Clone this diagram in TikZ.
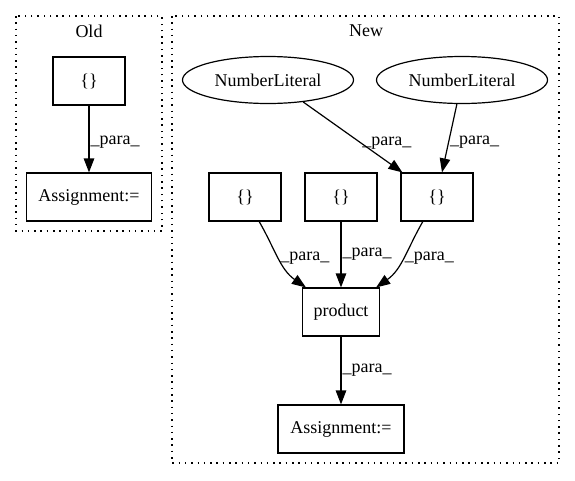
\documentclass[tikz,border=0pt]{standalone}
\usepackage{fontspec}
\setmainfont{Liberation Serif}
\usetikzlibrary{shapes.geometric,arrows.meta,calc}
\begin{document}
\begin{tikzpicture}[x=1pt,y=1pt,
  font=\fontsize{18}{21}\selectfont,
  box/.style={draw, line width=1.2pt, minimum width=72pt, minimum height=48pt, inner sep=0pt},
  ell/.style={draw, ellipse, line width=1.2pt, minimum width=171pt, minimum height=47pt, inner sep=0pt},
  cluster/.style={draw, line width=1.3pt, dash pattern=on 1.5pt off 4.8pt},
  edge/.style={draw, line width=1.2pt, -{Triangle[length=14pt,width=10.5pt]}},
  lab/.style={anchor=west, inner sep=1pt}]
\useasboundingbox (0,0) rectangle (575,-480);
% clusters
\draw[cluster] (16,-16) rectangle (162,-231);
\draw[cluster] (172,-16) rectangle (559,-463);
\node (oldlbl) at (89,-31) {Old};
\node (newlbl) at (366,-31) {New};
% Old
\node[box] (ob) at (89,-81) {\{\}};
\node[box, minimum width=125pt] (oa) at (89,-197) {Assignment:=};
% New
\node[ell] (nl1) at (268,-80) {NumberLiteral};
\node[ell] (nl2) at (462,-80) {NumberLiteral};
\node[box] (b1) at (245,-197) {\{\}};
\node[box] (b2) at (341,-197) {\{\}};
\node[box] (b3) at (437,-197) {\{\}};
\node[box, minimum width=77pt] (prod) at (341,-312) {product};
\node[box, minimum width=126pt] (na) at (341,-429) {Assignment:=};
% edges
\draw[edge] (ob) -- node[lab, pos=0.54] {\_para\_} (oa);
\draw[edge] (nl1.-32) -- node[lab, pos=0.58] {\_para\_} ($(b3.north west)+(2,0)$);
\draw[edge] (nl2.-102) -- node[lab, pos=0.56] {\_para\_} ($(b3.north)+(5,0)$);
\draw[edge] (b1) to[out=-60, in=145] node[lab, pos=0.5] {\_para\_} (prod);
\draw[edge] (b2) -- node[lab, pos=0.5] {\_para\_} (prod);
\draw[edge] (b3) to[out=-120, in=35] node[lab, pos=0.5] {\_para\_} (prod);
\draw[edge] (prod) -- node[lab, pos=0.5] {\_para\_} (na);
\end{tikzpicture}
\end{document}
